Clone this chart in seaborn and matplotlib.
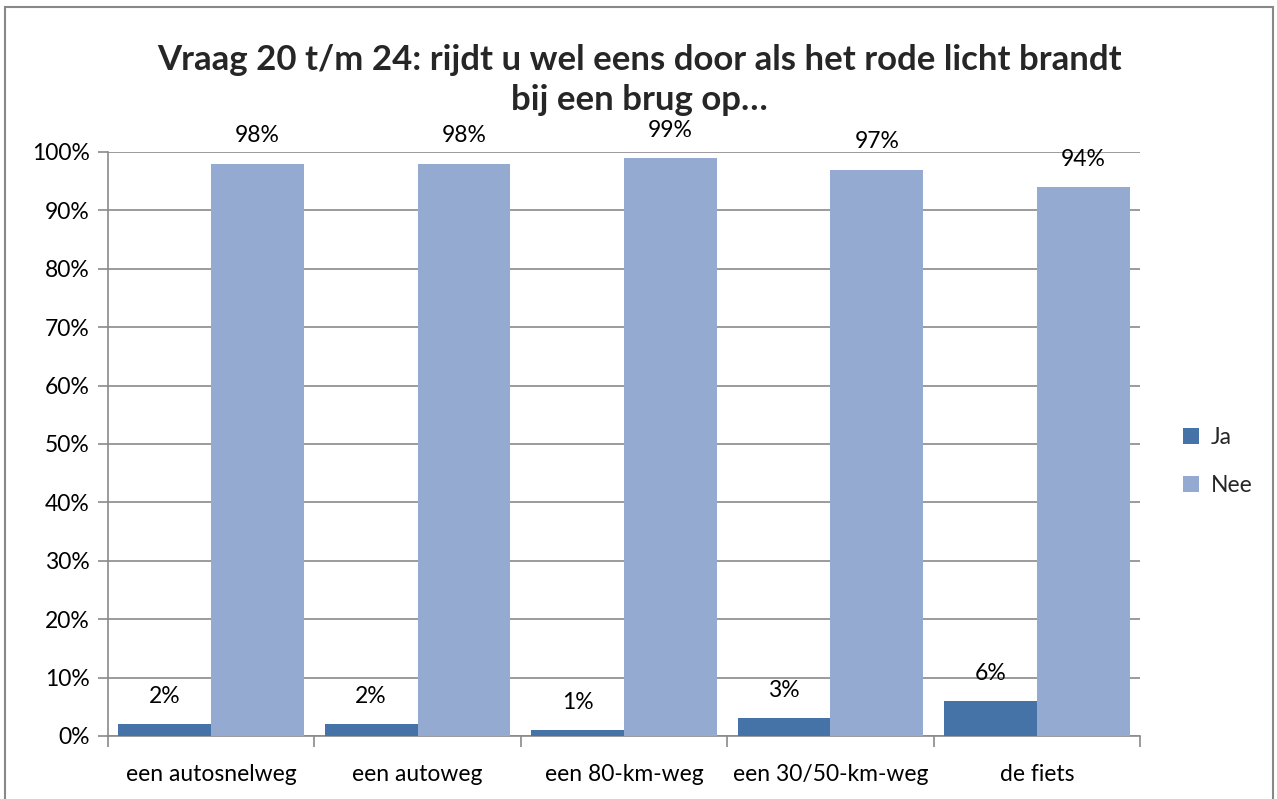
import pandas as pd
import matplotlib
matplotlib.use('Agg')
import matplotlib.pyplot as plt
import seaborn as sns
from matplotlib.patches import Rectangle
from matplotlib.ticker import PercentFormatter, FixedLocator

# data
categories = ['een autosnelweg', 'een autoweg', 'een 80-km-weg', 'een 30/50-km-weg', 'de fiets']
ja = [2, 2, 1, 3, 6]
nee = [98, 98, 99, 97, 94]
series = ['Ja', 'Nee']

JA_COLOR = '#4572A7'
NEE_COLOR = '#94AAD1'
GRID = '#8a8a8a'
FS = 16.5

sns.set_theme(style='white')
plt.rcParams['font.family'] = ['Lato', 'DejaVu Sans']

df = pd.DataFrame({
    'categorie': categories * 2,
    'antwoord': ['Ja'] * len(categories) + ['Nee'] * len(categories),
    'waarde': ja + nee,
})

fig = plt.figure(figsize=(12.77, 7.99), dpi=100)
ax = fig.add_axes([108 / 1277, 63 / 799, 1032 / 1277, 584 / 799])

sns.barplot(data=df, x='categorie', y='waarde', hue='antwoord', hue_order=series,
            palette={'Ja': JA_COLOR, 'Nee': NEE_COLOR}, width=0.9, saturation=1,
            linewidth=0, ax=ax, zorder=3, legend=True)

ax.set_ylim(0, 100)
ax.set_xlim(-0.5, len(categories) - 0.5)
ax.set_yticks(range(0, 101, 10))
ax.yaxis.set_major_formatter(PercentFormatter(decimals=0))
ax.grid(axis='y', color=GRID, linewidth=1.2, zorder=0)
ax.set_axisbelow(True)
ax.set_xlabel('')
ax.set_ylabel('')

for side in ['top', 'right']:
    ax.spines[side].set_visible(False)
for side in ['left', 'bottom']:
    ax.spines[side].set_color(GRID)
    ax.spines[side].set_linewidth(1.2)

ax.tick_params(axis='y', which='major', left=True, length=7, width=1.2, color=GRID,
               labelsize=FS, pad=6, labelcolor='black')
ax.tick_params(axis='x', which='major', length=0, labelsize=FS, pad=20, labelcolor='black')
ax.xaxis.set_minor_locator(FixedLocator([i - 0.5 for i in range(len(categories) + 1)]))
ax.tick_params(axis='x', which='minor', bottom=True, length=8, width=1.2, color=GRID)

# data labels
for container in ax.containers:
    for bar in container:
        h = bar.get_height()
        ax.annotate(f'{h:.0f}%', xy=(bar.get_x() + bar.get_width() / 2, h),
                    xytext=(0, 20), textcoords='offset points',
                    ha='center', va='center', fontsize=FS, color='black')

leg = ax.legend(loc='center left', bbox_to_anchor=(1.022, 0.47), frameon=False,
                fontsize=FS, handlelength=0.7, handleheight=0.7, labelspacing=1.2,
                handletextpad=0.5)

fig.text(0.501, 0.900, 'Vraag 20 t/m 24: rijdt u wel eens door als het rode licht brandt\nbij een brug op\u2026',
         ha='center', va='center', fontsize=25, fontweight='bold', linespacing=1.32)

fig.patches.append(Rectangle((5 / 1277, -0.02), 1268 / 1277, 1.02 - 7 / 799,
                             transform=fig.transFigure, fill=False,
                             edgecolor='#888888', linewidth=1.5))

fig.savefig('out.png', dpi=100)
